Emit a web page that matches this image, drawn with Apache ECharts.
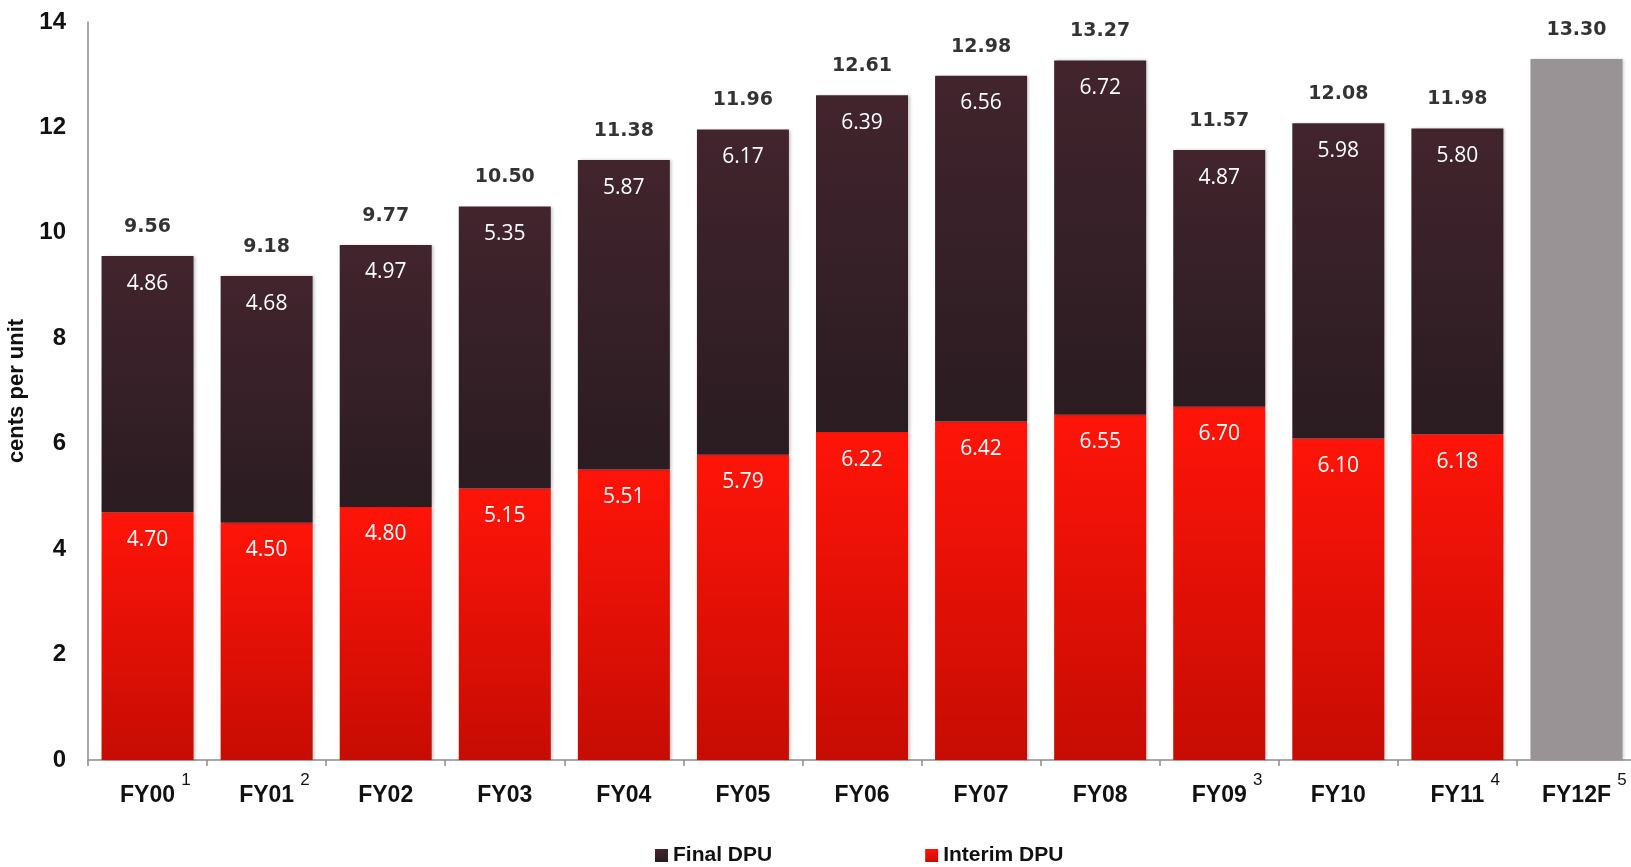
<!DOCTYPE html>
<html>
<head>
<meta charset="utf-8">
<script src="https://cdn.jsdelivr.net/npm/echarts@6/dist/echarts.min.js"></script>
<style>
  html, body { margin: 0; padding: 0; background: #ffffff; }
  #chart { width: 1631px; height: 867px; }
</style>
</head>
<body>
<div id="chart"></div>
<script>
// Distribution per unit by financial year (cents per unit)
const categories = ['FY00', 'FY01', 'FY02', 'FY03', 'FY04', 'FY05', 'FY06', 'FY07', 'FY08', 'FY09', 'FY10', 'FY11', 'FY12F'];
const footnotes  = ['1', '2', '', '', '', '', '', '', '', '3', '', '4', '5'];
const interimDPU = [4.70, 4.50, 4.80, 5.15, 5.51, 5.79, 6.22, 6.42, 6.55, 6.70, 6.10, 6.18, null];
const finalDPU   = [4.86, 4.68, 4.97, 5.35, 5.87, 6.17, 6.39, 6.56, 6.72, 4.87, 5.98, 5.80, null];
const forecastDPU = [null, null, null, null, null, null, null, null, null, null, null, null, 13.30];
const totalDPU   = [9.56, 9.18, 9.77, 10.50, 11.38, 11.96, 12.61, 12.98, 13.27, 11.57, 12.08, 11.98, 13.30];
const yTicks = [0, 2, 4, 6, 8, 10, 12, 14];

const boldFamily = '"Liberation Sans", Arial, sans-serif';

const chart = echarts.init(document.getElementById('chart'));

const shadow = {
  shadowColor: 'rgba(0,0,0,0.22)',
  shadowBlur: 3,
  shadowOffsetX: 2,
  shadowOffsetY: 0
};

const innerLabel = {
  show: true,
  position: 'insideTop',
  distance: 17,
  color: '#ffffff',
  fontFamily: '"Open Sans", sans-serif',
  fontSize: 21,
  formatter: p => p.value == null ? '' : p.value.toFixed(2)
};

chart.setOption({
  animation: false,
  backgroundColor: '#ffffff',
  grid: { left: 88, top: 22, width: 1548, height: 738, containLabel: false, outerBoundsMode: 'none' },
  legend: {
    data: ['Final DPU', 'Interim DPU'],
    left: 650,
    top: 840,
    icon: 'rect',
    itemWidth: 13,
    itemHeight: 13,
    itemGap: 153,
    itemTextGap: 8,
    textStyle: {
      fontFamily: boldFamily,
      fontWeight: 'bold',
      fontSize: 21,
      color: '#111111'
    }
  },
  xAxis: {
    type: 'category',
    data: categories,
    axisLine: { lineStyle: { color: '#8c8c8c', width: 1.5 } },
    axisTick: { show: true, length: 6, lineStyle: { color: '#8c8c8c', width: 1.5 } },
    axisLabel: {
      margin: 12,
      interval: 0,
      formatter: (v, i) => footnotes[i]
        ? '{p|}{a|' + v + '}{s|' + footnotes[i] + '}'
        : '{a|' + v + '}',
      rich: {
        a: { fontFamily: boldFamily, fontWeight: 'bold', fontSize: 23, lineHeight: 48, color: '#111111' },
        s: { fontFamily: boldFamily, fontSize: 17, lineHeight: 17, verticalAlign: 'top', color: '#111111', width: 14, align: 'left', padding: [0, 0, 0, 4] },
        p: { width: 18, fontSize: 17 }
      }
    }
  },
  yAxis: {
    type: 'value',
    min: 0,
    max: 14,
    interval: 2,
    name: 'cents per unit',
    nameLocation: 'middle',
    nameGap: 52,
    nameRotate: 90,
    nameTextStyle: { fontFamily: boldFamily, fontWeight: 'bold', fontSize: 22, color: '#111111' },
    axisLine: { show: true, lineStyle: { color: '#8c8c8c', width: 1.5 } },
    axisTick: { show: false },
    splitLine: { show: false },
    axisLabel: {
      margin: 22,
      fontFamily: boldFamily,
      fontWeight: 'bold',
      fontSize: 24,
      color: '#111111',
      formatter: v => yTicks.includes(v) ? String(v) : ''
    }
  },
  series: [
    {
      name: 'Interim DPU',
      type: 'bar',
      stack: 'dpu',
      barWidth: 92,
      data: interimDPU,
      itemStyle: Object.assign({
        color: new echarts.graphic.LinearGradient(0, 0, 0, 1, [
          { offset: 0, color: '#ff1409' },
          { offset: 1, color: '#c60c03' }
        ])
      }, shadow),
      label: innerLabel
    },
    {
      name: 'Final DPU',
      type: 'bar',
      stack: 'dpu',
      barWidth: 92,
      data: finalDPU,
      itemStyle: Object.assign({
        color: new echarts.graphic.LinearGradient(0, 0, 0, 1, [
          { offset: 0, color: '#42242d' },
          { offset: 1, color: '#2a1c21' }
        ])
      }, shadow),
      label: innerLabel
    },
    {
      name: 'Forecast DPU',
      type: 'bar',
      stack: 'dpu',
      barWidth: 92,
      data: forecastDPU,
      itemStyle: Object.assign({ color: '#9a9395' }, shadow)
    },
    {
      name: 'Total DPU',
      type: 'scatter',
      data: totalDPU,
      symbolSize: 1,
      silent: true,
      itemStyle: { color: 'rgba(0,0,0,0)' },
      label: {
        show: true,
        position: 'top',
        distance: 19,
        color: '#000000',
        fontFamily: '"DejaVu Sans", sans-serif',
        fontWeight: 'bold',
        fontSize: 19,
        formatter: p => p.value.toFixed(2)
      }
    }
  ]
});
</script>
</body>
</html>
